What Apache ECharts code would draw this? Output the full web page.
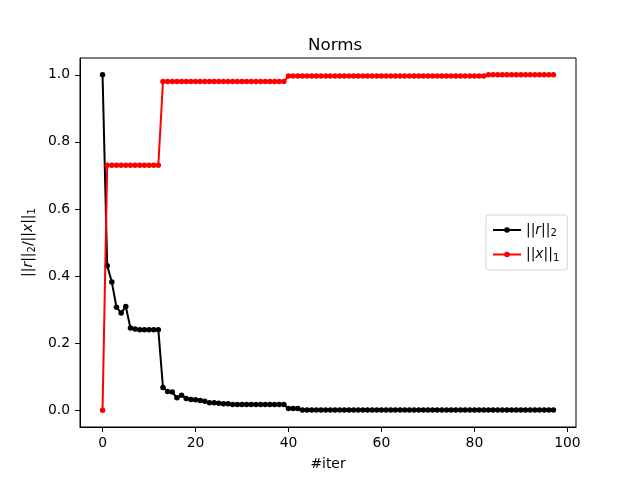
<!DOCTYPE html>
<html>
<head>
<meta charset="utf-8">
<script src="https://cdn.jsdelivr.net/npm/echarts@6/dist/echarts.min.js"></script>
<style>html,body{margin:0;padding:0;background:#fff}#c{width:640px;height:480px}</style>
</head>
<body>
<div id="c"></div>
<script>
const xTicks = [0, 20, 40, 60, 80, 100];
const yTicks = [0.0, 0.2, 0.4, 0.6, 0.8, 1.0];
const rNorm = [
  1.0, 0.431, 0.382, 0.307, 0.290, 0.309, 0.245, 0.242, 0.240, 0.240,
  0.240, 0.240, 0.240, 0.068, 0.056, 0.054, 0.037, 0.045, 0.035, 0.032,
  0.031, 0.029, 0.027, 0.022, 0.022, 0.021, 0.019, 0.019, 0.017, 0.017,
  0.017, 0.017, 0.017, 0.017, 0.017, 0.017, 0.017, 0.017, 0.017, 0.017,
  0.005, 0.005, 0.005, 0.001, 0.001, 0.001, 0.001, 0.001, 0.001, 0.001,
  0.001, 0.001, 0.001, 0.001, 0.001, 0.001, 0.001, 0.001, 0.001, 0.001,
  0.001, 0.001, 0.001, 0.001, 0.001, 0.001, 0.001, 0.001, 0.001, 0.001,
  0.001, 0.001, 0.001, 0.001, 0.001, 0.001, 0.001, 0.001, 0.001, 0.001,
  0.001, 0.001, 0.001, 0.001, 0.001, 0.001, 0.001, 0.001, 0.001, 0.001,
  0.001, 0.001, 0.001, 0.001, 0.001, 0.001, 0.001, 0.001
];
const xNorm = [
  0.0, 0.73, 0.73, 0.73, 0.73, 0.73, 0.73, 0.73, 0.73, 0.73,
  0.73, 0.73, 0.73, 0.98, 0.98, 0.98, 0.98, 0.98, 0.98, 0.98,
  0.98, 0.98, 0.98, 0.98, 0.98, 0.98, 0.98, 0.98, 0.98, 0.98,
  0.98, 0.98, 0.98, 0.98, 0.98, 0.98, 0.98, 0.98, 0.98, 0.98,
  0.996, 0.996, 0.996, 0.996, 0.996, 0.996, 0.996, 0.996, 0.996, 0.996,
  0.996, 0.996, 0.996, 0.996, 0.996, 0.996, 0.996, 0.996, 0.996, 0.996,
  0.996, 0.996, 0.996, 0.996, 0.996, 0.996, 0.996, 0.996, 0.996, 0.996,
  0.996, 0.996, 0.996, 0.996, 0.996, 0.996, 0.996, 0.996, 0.996, 0.996,
  0.996, 0.996, 0.996, 1.0, 1.0, 1.0, 1.0, 1.0, 1.0, 1.0,
  1.0, 1.0, 1.0, 1.0, 1.0, 1.0, 1.0, 1.0
];

const FONT = 'DejaVu Sans';
const toPairs = arr => arr.map((v, i) => [i, v]);
const richMath = {
  i: {fontFamily: FONT, fontStyle: 'italic', fontSize: 13.9, color: '#000'},
  s: {fontFamily: FONT, fontSize: 10, color: '#000', padding: [7, 0, 0, 0]}
};

const chart = echarts.init(document.getElementById('c'), null, {renderer: 'canvas'});
chart.setOption({
  animation: false,
  backgroundColor: '#fff',
  textStyle: {fontFamily: FONT, color: '#000'},
  title: {
    text: 'Norms',
    left: 303, top: 32,
    textStyle: {fontFamily: FONT, fontSize: 16.7, fontWeight: 'normal', color: '#000'}
  },
  grid: {
    left: 80, right: 64, top: 58, bottom: 53,
    show: true, borderColor: '#000', borderWidth: 1, backgroundColor: 'transparent'
  },
  legend: {
    orient: 'vertical',
    left: 486, top: 215,
    padding: [8, 8, 7, 6],
    itemGap: 9,
    itemWidth: 28, itemHeight: 7,
    borderColor: '#d6d6d6', borderWidth: 1, borderRadius: 3,
    backgroundColor: '#fff',
    data: ['r', 'x'],
    formatter: function (name) {
      return name === 'r' ? '||{i|r}||{s|2}' : '||{i|x}||{s|1}';
    },
    textStyle: {
      fontFamily: FONT, fontSize: 13.9, color: '#000',
      rich: richMath
    }
  },
  xAxis: {
    type: 'value',
    min: -4.85, max: 101.85,
    name: '#iter',
    nameLocation: 'middle',
    nameGap: 30,
    nameTextStyle: {fontFamily: FONT, fontSize: 13.9, color: '#000'},
    splitLine: {show: false},
    axisLine: {show: true, onZero: false, lineStyle: {color: '#000', width: 1}},
    axisTick: {show: true, inside: false, length: 5, customValues: xTicks, lineStyle: {color: '#000'}},
    axisLabel: {customValues: xTicks, fontFamily: FONT, fontSize: 13.9, color: '#000', margin: 9,
      formatter: v => String(Math.round(v))}
  },
  yAxis: {
    type: 'value',
    min: -0.05, max: 1.05,
    name: '||{i|r}||{s|2}/||{i|x}||{s|1}',
    nameLocation: 'middle',
    nameGap: 42,
    nameRotate: 90,
    nameTextStyle: {fontFamily: FONT, fontSize: 13.9, color: '#000', rich: richMath},
    splitLine: {show: false},
    axisLine: {show: true, onZero: false, lineStyle: {color: '#000', width: 1}},
    axisTick: {show: true, inside: false, length: 5, customValues: yTicks, lineStyle: {color: '#000'}},
    axisLabel: {customValues: yTicks, fontFamily: FONT, fontSize: 13.9, color: '#000', margin: 10,
      formatter: v => v.toFixed(1)}
  },
  series: [
    {
      name: 'r', type: 'line', data: toPairs(rNorm),
      symbol: 'circle', symbolSize: 5.5, showSymbol: true,
      lineStyle: {color: '#000', width: 2}, itemStyle: {color: '#000'},
      z: 3
    },
    {
      name: 'x', type: 'line', data: toPairs(xNorm),
      symbol: 'circle', symbolSize: 5.5, showSymbol: true,
      lineStyle: {color: '#ff0000', width: 2}, itemStyle: {color: '#ff0000'},
      z: 4
    }
  ]
});
</script>
</body>
</html>
